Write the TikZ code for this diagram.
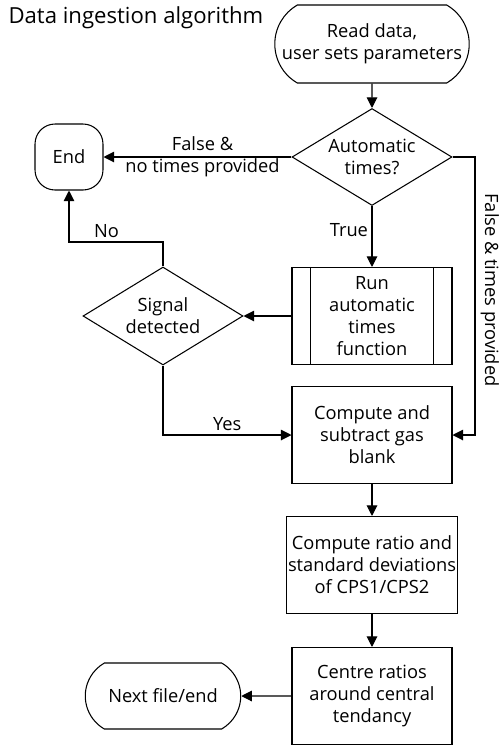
\documentclass[tikz,border=0pt]{standalone}
\usepackage{fontspec}
\setmainfont{Open Sans}
\usetikzlibrary{arrows.meta, shapes.geometric, shapes.misc, calc}
\definecolor{ink}{HTML}{000000}

\begin{document}
\begin{tikzpicture}[x=0.02cm, y=-0.02cm, >={Triangle[length=6pt, width=6pt]},
  line width=0.6pt, draw=ink, text=ink,
  font=\fontsize{10.4}{12.6}\selectfont,
  process/.style={draw, rectangle, minimum width=3.2cm, minimum height=1.94cm,
    align=center, inner sep=1pt},
  decision/.style={draw, diamond, aspect=1.65, minimum width=3.2cm,
    minimum height=1.96cm, inner sep=0pt, align=center},
  terminal/.style={draw, rounded rectangle, rounded rectangle arc length=120,
    align=center, inner sep=1pt},
  flow/.style={->}]

% Canvas: 500 x 751 px, 1 px = 0.02cm, y downwards
\useasboundingbox (0,0) rectangle (500,751);

% Title
\node[anchor=base west, inner sep=0pt, font=\fontsize{12.6}{14}\selectfont]
  (title) at (8,23) {Data ingestion algorithm};

% Main column (x = 372)
\node[terminal, minimum width=3.96cm, minimum height=1.56cm] (read) at (372,44)
  {Read data,\\user sets parameters};
\node[decision, minimum height=1.94cm] (auto) at (372,157) {Automatic\\times?};
\node[process] (runauto) at (372,316) {Run\\automatic\\times\\function};
\draw ($(runauto.north west)+(19,0)$) -- ($(runauto.south west)+(19,0)$);
\draw ($(runauto.north east)+(-19,0)$) -- ($(runauto.south east)+(-19,0)$);
\node[process] (gasblank) at (372,435)
  {Compute and\\subtract gas\\blank};
\node[process, minimum width=3.42cm] (ratio) at (372,565)
  {Compute ratio and\\standard deviations\\of CPS1/CPS2};
\node[process] (centre) at (372,696)
  {Centre ratios\\around central\\tendancy};

% Left column
\node[draw, rounded corners=0.4cm, minimum width=1.36cm, minimum height=1.32cm]
  (endnode) at (69,157) {End};
\node[decision] (signal) at (163,316) {Signal\\detected};
\node[terminal, minimum width=3.18cm, minimum height=1.32cm] (nextfile) at (163,696)
  {Next file/end};

% Bends
\coordinate (rbend) at (475,157);
\coordinate (nobend) at (163,242);
\coordinate (rlabel) at (475,290);

% Connectors
\draw[flow] (read) -- (auto);
\draw[flow] (auto) -- (endnode)
  node[midway, align=center, xshift=0.1cm] {False \&\\no times provided};
\draw[flow] (auto) -- (runauto)
  node[pos=0.4, left, inner sep=2pt] {True};
\draw[flow] (auto.east) -- (rbend) |- (gasblank.east);
\node[rotate=-90, anchor=south, inner sep=3pt] (falsetimes) at (rlabel)
  {False \& times provided};
\draw[flow] (runauto) -- (signal);
\draw[flow] (signal.north) -- (nobend) -| (endnode.south)
  node[pos=0.3, above, inner sep=2pt] {No};
\draw[flow] (signal.south) |- (gasblank.west)
  node[pos=0.75, above, inner sep=2pt] {Yes};
\draw[flow] (gasblank) -- (ratio);
\draw[flow] (ratio) -- (centre);
\draw[flow] (centre) -- (nextfile);

\end{tikzpicture}
\end{document}
